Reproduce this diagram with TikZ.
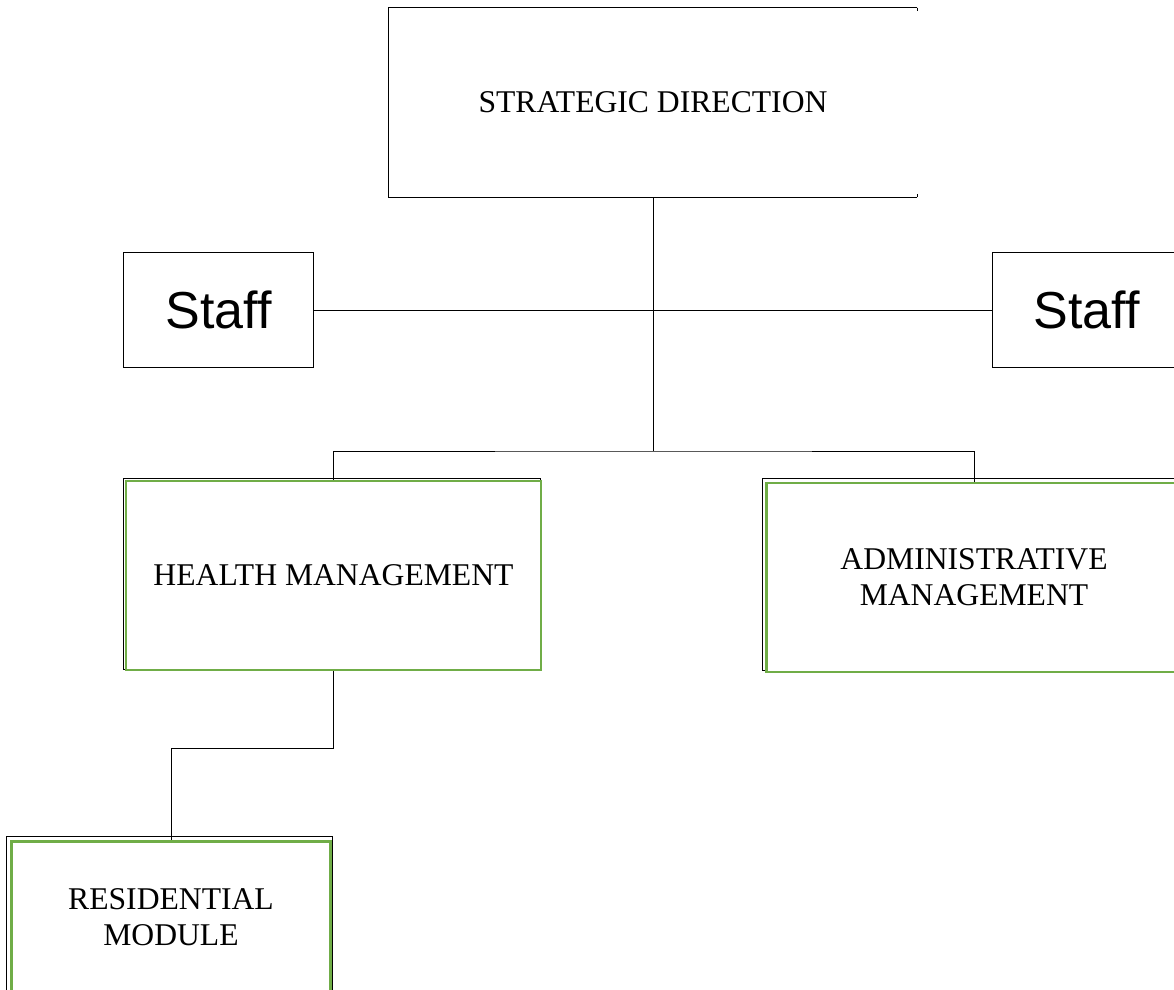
\documentclass[tikz,border=0pt]{standalone}
\usepackage{fontspec}
\setmainfont{Liberation Serif}
\newfontfamily\stafffont{Liberation Sans}
\usetikzlibrary{positioning,backgrounds}
\definecolor{mgreen}{RGB}{112,173,71}

\begin{document}
\begin{tikzpicture}[
        x=0.025cm, y=0.025cm,
        line/.style={draw=black, line width=0.7pt},
        headbox/.style={draw=none, minimum width=13.2cm, minimum height=4.725cm,
            font=\fontsize{22.5}{26}\selectfont, align=center},
        staffbox/.style={line, fill=white, minimum width=4.725cm, minimum height=2.85cm,
            font=\stafffont\fontsize{37}{40}\selectfont},
        unitbox/.style={draw=mgreen, line width=1.6pt, fill=white, minimum height=4.725cm,
            font=\fontsize{22.5}{25.6}\selectfont, align=center},
    ]
    \useasboundingbox (0,0) rectangle (1174,989);
    \clip (0,0) rectangle (1174,989);

    % boxes
    \node[headbox](top) at (653,886.5){STRATEGIC DIRECTION};
    \node[staffbox](staffL) at (218.5,679){Staff};
    \node[staffbox](staffR) at (1086.5,679){Staff};
    \node[unitbox, minimum width=10.375cm](health) at (333.5,413.5){HEALTH MANAGEMENT};
    \node[unitbox, minimum width=10.375cm](admin) at (974,411.5){ADMINISTRATIVE\\MANAGEMENT};
    \node[unitbox, minimum width=7.975cm, minimum height=3.8cm](resid) at (171,71.5){RESIDENTIAL\\MODULE};

    % top box, open on the right
    \draw[line] (top.north east) -- (top.north west) -- (top.south west) -- (top.south east);
    \draw[line] (top.north east) -- ++(0,-3);
    \draw[line] (top.south east) -- ++(0,3);

    % frames behind the green boxes
    \begin{scope}[on background layer]
        \draw[line] ([shift={(-1.5,1.5)}]health.south west) rectangle ([shift={(-1.5,1.5)}]health.north east);
        \draw[line] ([shift={(-3,3)}]admin.south west) rectangle ([shift={(-3,3)}]admin.north east);
        \draw[line] ([shift={(-4,-2)}]resid.south west) rectangle ([shift={(1,3.5)}]resid.north east);
    \end{scope}

    % connectors
    \coordinate (hub) at (653,538);
    \draw[line] (top.south) -- (hub);
    \draw[line] (staffL.east) -- (staffR.west);
    \draw[line] (health.north) |- (hub) -| (admin.north);
    \draw[line] (health.south) -- ++(0,-77) -| (resid.north);

\end{tikzpicture}
\end{document}
